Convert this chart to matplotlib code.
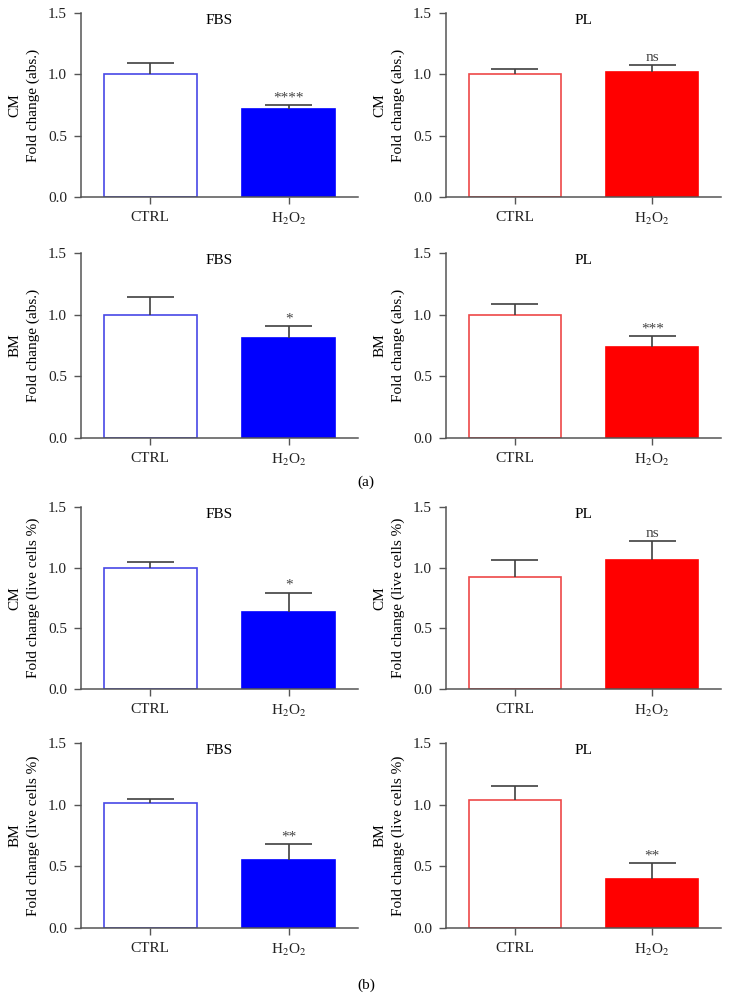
import numpy as np
import matplotlib.pyplot as plt

plt.rcParams['font.family'] = ['Liberation Serif', 'DejaVu Serif']
plt.rcParams['mathtext.fontset'] = 'stix'

# data
groups = ["CTRL", "H$_2$O$_2$"]
media = ["FBS", "PL"]
row_labels = [("CM", "Fold change (abs.)"), ("BM", "Fold change (abs.)"),
              ("CM", "Fold change (live cells %)"), ("BM", "Fold change (live cells %)")]

# means [ctrl, h2o2] per row
means_fbs = [[1.00, 0.715], [1.00, 0.81], [1.00, 0.635], [1.01, 0.555]]
err_fbs = [[0.095, 0.035], [0.145, 0.095], [0.045, 0.16], [0.035, 0.125]]
sig_fbs = ["****", "*", "*", "**"]

means_pl = [[1.00, 1.02], [1.00, 0.735], [0.925, 1.06], [1.04, 0.395]]
err_pl = [[0.045, 0.06], [0.09, 0.09], [0.135, 0.16], [0.11, 0.13]]
sig_pl = ["ns", "***", "ns", "**"]

fig = plt.figure(figsize=(7.32, 10.01), dpi=100)
W, H = 732, 1001

# pixel boxes for axes
rows_px = [(13, 197), (253, 438), (507, 689), (743, 928)]
cols_px = [(81, 358), (446, 721)]

edge = {"FBS": ("#4848e6", "#0000ff"), "PL": ("#ee4848", "#ff0000")}
gray = "#555555"
ecol = "#404040"

for r, (top, bot) in enumerate(rows_px):
    for c, (left, right) in enumerate(cols_px):
        ax = fig.add_axes([left / W, 1 - bot / H, (right - left) / W, (bot - top) / H])
        med = media[c]
        if c == 0:
            vals, errs, sig = means_fbs[r], err_fbs[r], sig_fbs[r]
        else:
            vals, errs, sig = means_pl[r], err_pl[r], sig_pl[r]
        outline, fill = edge[med]
        x = np.arange(2)
        ax.bar(x[0], vals[0], width=0.67, color="white", edgecolor=outline, linewidth=1.2, zorder=2)
        ax.bar(x[1], vals[1], width=0.67, color=fill, edgecolor=fill, linewidth=1.2, zorder=2)
        # one-sided error bars, cap only on top
        for i in range(2):
            ax.vlines(x[i], vals[i], vals[i] + errs[i], color=ecol, lw=1.2, zorder=3)
            ax.hlines(vals[i] + errs[i], x[i] - 0.17, x[i] + 0.17, color=ecol, lw=1.2, zorder=3)
        ax.text(x[1], vals[1] + errs[1] + 0.005, sig, ha="center", va="bottom",
                fontsize=11, color="#444444")
        ax.text(0.5, 1.44, med, ha="center", va="center", fontsize=11)

        ax.set_xlim(-0.5, 1.5)
        ax.set_ylim(0, 1.5)
        ax.set_yticks([0, 0.5, 1.0, 1.5])
        ax.set_yticklabels(["0.0", "0.5", "1.0", "1.5"])
        ax.set_xticks(x)
        ax.set_xticklabels(groups)
        ax.tick_params(axis="both", labelsize=11, colors="#222222", length=5, width=1,
                       color=gray, pad=5)
        for s in ["top", "right"]:
            ax.spines[s].set_visible(False)
        for s in ["left", "bottom"]:
            ax.spines[s].set_color(gray)
            ax.spines[s].set_linewidth(1.1)
        ax.set_ylabel(row_labels[r][0] + "\n" + row_labels[r][1], fontsize=11,
                      linespacing=1.5, labelpad=6)

fig.text(366 / W, 1 - 482 / H, "(a)", ha="center", va="center", fontsize=11)
fig.text(366 / W, 1 - 985 / H, "(b)", ha="center", va="center", fontsize=11)

fig.savefig("out.png", dpi=100)
